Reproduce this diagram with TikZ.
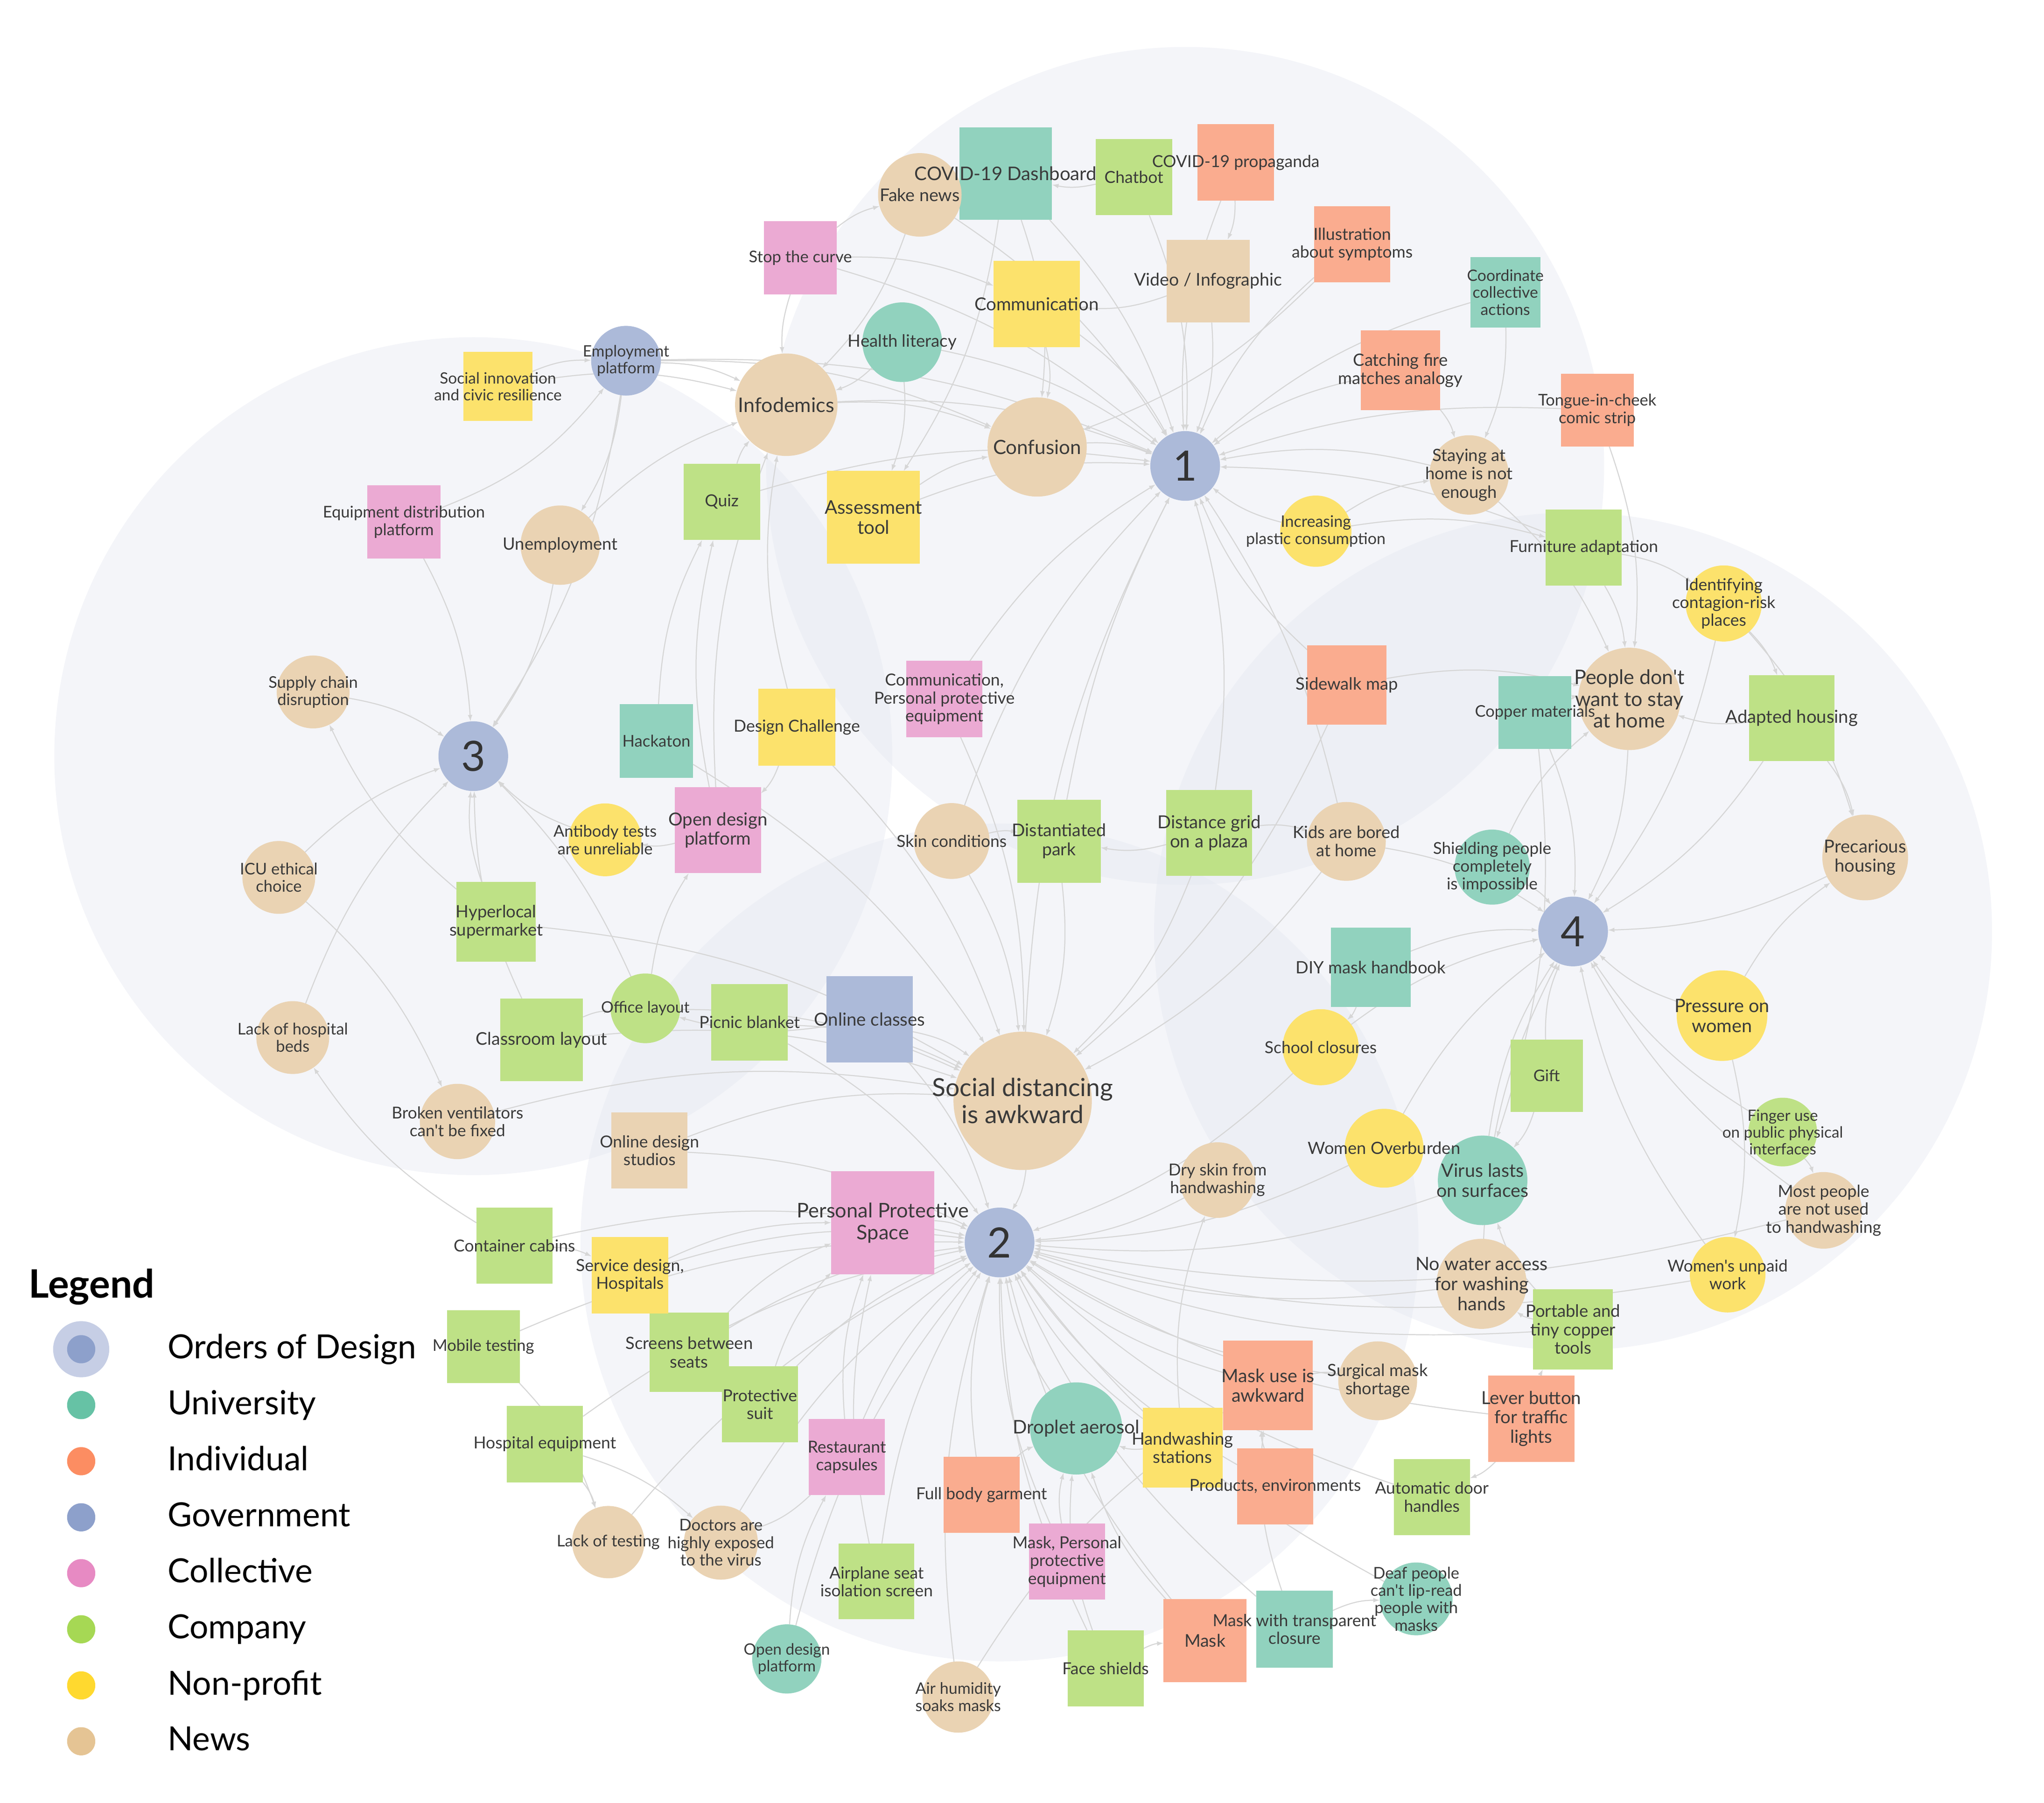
\documentclass[tikz,border=0pt]{standalone}
\usepackage{fontspec}
\setmainfont{Lato}[Ligatures=TeXOff]
\usetikzlibrary{arrows.meta}
\pgfdeclarelayer{bg}\pgfdeclarelayer{edges}\pgfdeclarelayer{fg}
\pgfsetlayers{bg,edges,main,fg}
\definecolor{cTeal}{HTML}{91D2BE}
\definecolor{cOrange}{HTML}{FAAC8F}
\definecolor{cBlue}{HTML}{ACBAD9}
\definecolor{cPink}{HTML}{EBAAD3}
\definecolor{cGreen}{HTML}{BEE186}
\definecolor{cYellow}{HTML}{FCE26C}
\definecolor{cTan}{HTML}{EAD3B3}
\definecolor{lTeal}{HTML}{66C2A5}
\definecolor{lOrange}{HTML}{FC8D62}
\definecolor{lBlue}{HTML}{8DA0CB}
\definecolor{lPink}{HTML}{E78AC3}
\definecolor{lGreen}{HTML}{A6D854}
\definecolor{lYellow}{HTML}{FFD92F}
\definecolor{lTan}{HTML}{E5C494}
\definecolor{lHalo}{HTML}{C6CEE5}
\definecolor{textc}{HTML}{3A3A3A}
\definecolor{edgec}{HTML}{D6D6D6}
\definecolor{clus}{HTML}{E4E7F0}
\tikzset{
  txt/.style={inner sep=0pt, align=center, text=textc},
  ed/.style={draw=edgec, line width=0.8pt, -{Latex[length=5pt,width=3.6pt]}},
  shp/.style={inner sep=0pt, outer sep=0pt, draw=none},
  legtxt/.style={anchor=base west, font=\fontsize{25.5}{28}\selectfont, text=black},
}
\newcommand\ndC[6]{%
  \pgfmathsetmacro\fsz{4.8+0.135*#4}%
  \pgfmathsetmacro\lsz{1.08*\fsz}%
  \node[shp, circle, fill=#5, minimum size=#4pt] (#1) at (#2,#3) {};
  \begin{pgfonlayer}{fg}
  \node[txt, font=\fontsize{\fsz}{\lsz}\selectfont] (#1-t) at (#2,#3) {#6};
  \end{pgfonlayer}}
\newcommand\ndS[6]{%
  \pgfmathsetmacro\fsz{4.8+0.135*#4}%
  \pgfmathsetmacro\lsz{1.08*\fsz}%
  \node[shp, rectangle, fill=#5, minimum width=#4pt, minimum height=#4pt] (#1) at (#2,#3) {};
  \begin{pgfonlayer}{fg}
  \node[txt, font=\fontsize{\fsz}{\lsz}\selectfont] (#1-t) at (#2,#3) {#6};
  \end{pgfonlayer}}
\newcommand\ndH[4]{%
  \node[shp, circle, fill=cBlue, minimum size=53.4pt] (#1) at (#2,#3) {};
  \begin{pgfonlayer}{fg}
  \node[txt, text=black!80, font=\fontsize{32}{34}\selectfont] (#1-t) at (#2,#3) {#4};
  \end{pgfonlayer}}
\newcommand\edg[3][12]{\draw[ed] (#2) to[bend left=#1] (#3);}
\begin{document}
\begin{tikzpicture}[x=1pt,y=-1pt]
\useasboundingbox (0,0) rectangle (1566,1381.5);
% cluster backgrounds
\begin{pgfonlayer}{bg}
\fill[clus, fill opacity=0.42] (908,357) circle (321pt);
\fill[clus, fill opacity=0.42] (362.6,579.4) circle (321pt);
\fill[clus, fill opacity=0.42] (1205.2,713.7) circle (321pt);
\fill[clus, fill opacity=0.42] (765.8,952) circle (321pt);
\end{pgfonlayer}
% ---------- cluster 1
\ndS{dash}{770.5}{133}{71}{cTeal}{COVID-19 Dashboard}
\ndC{fake}{704.7}{149.3}{64}{cTan}{Fake news}
\ndS{chat}{868.7}{135.7}{58.5}{cGreen}{Chatbot}
\ndS{prop}{946.8}{124.5}{58.5}{cOrange}{COVID-19 propaganda}
\ndS{stop}{613.2}{197.6}{56}{cPink}{Stop the curve}
\ndC{hlit}{691.2}{262.2}{61}{cTeal}{Health literacy}
\ndS{comm}{794.2}{233}{66}{cYellow}{Communication}
\ndS{video}{925.6}{215.4}{63.5}{cTan}{Video / Infographic}
\ndS{illu}{1036}{187.2}{58.5}{cOrange}{Illustration\\about symptoms}
\ndS{coord}{1153.3}{224}{53.7}{cTeal}{Coordinate\\collective\\actions}
\ndS{catch}{1073}{283.8}{61}{cOrange}{Catching fire\\matches analogy}
\ndS{tongue}{1223.7}{314.2}{55.8}{cOrange}{Tongue-in-cheek\\comic strip}
\ndH{c1}{908}{357}{1}
\ndC{conf}{794.6}{342.5}{76}{cTan}{Confusion}
\ndC{info}{602.4}{310.1}{78.5}{cTan}{Infodemics}
\ndS{quiz}{553}{384.5}{58.5}{cGreen}{Quiz}
\ndS{assess}{669.2}{396.4}{71}{cYellow}{Assessment\\tool}
\ndC{stay}{1125.5}{363.9}{60.8}{cTan}{Staying at\\home is not\\enough}
\ndC{plast}{1008.1}{407}{54.6}{cYellow}{Increasing\\plastic consumption}
\ndS{furn}{1213.4}{419.7}{58.3}{cGreen}{Furniture adaptation}
\ndC{ident}{1320.6}{462.4}{58.3}{cYellow}{Identifying\\contagion-risk\\places}
\ndS{side}{1031.9}{524.8}{60.8}{cOrange}{Sidewalk map}
\ndS{copper}{1176}{545.8}{55.8}{cTeal}{Copper materials}
\ndC{people}{1248.3}{535.5}{78.4}{cTan}{People don't\\want to stay\\at home}
\ndS{adapt}{1372.7}{550.3}{65.7}{cGreen}{Adapted housing}
\ndS{cppe}{723.5}{535.6}{58.5}{cPink}{Communication,\\Personal protective\\equipment}
\ndC{skin}{729.1}{644.4}{58.1}{cTan}{Skin conditions}
\ndS{park}{811.4}{644.5}{63.7}{cGreen}{Distantiated\\park}
\ndS{grid}{926.4}{638.2}{66}{cGreen}{Distance grid\\on a plaza}
% ---------- cluster 4
\ndC{kids}{1031.5}{644.7}{60.4}{cTan}{Kids are bored\\at home}
\ndC{shield}{1143.2}{664.4}{57.5}{cTeal}{Shielding people\\completely\\is impossible}
\ndC{prec}{1429}{657}{65.7}{cTan}{Precarious\\housing}
\ndH{c4}{1205.2}{713.7}{4}
\ndS{diy}{1050.2}{741.2}{61}{cTeal}{DIY mask handbook}
\ndC{press}{1319.3}{778.2}{69.4}{cYellow}{Pressure on\\women}
\ndC{school}{1011.8}{802.4}{58.3}{cYellow}{School closures}
\ndS{gift}{1184.9}{824.3}{55.4}{cGreen}{Gift}
\ndC{finger}{1365.8}{867.4}{52.6}{cGreen}{Finger use\\on public physical\\interfaces}
\ndC{wover}{1060.4}{879.8}{60.4}{cYellow}{Women Overburden}
\ndC{virus}{1135.9}{904.4}{68.6}{cTeal}{Virus lasts\\on surfaces}
\ndC{dry}{932.8}{904.2}{57.9}{cTan}{Dry skin from\\handwashing}
\ndC{most}{1397.1}{927.4}{58.7}{cTan}{Most people\\are not used\\to handwashing}
\ndC{unpaid}{1323.6}{976.7}{57.9}{cYellow}{Women's unpaid\\work}
\ndC{water}{1135.1}{983.7}{69}{cTan}{No water access\\for washing\\hands}
\ndS{port}{1205.1}{1018.6}{61.2}{cGreen}{Portable and\\tiny copper\\tools}
% ---------- cluster 2
\ndS{maskaw}{971.5}{1061.5}{68.6}{cOrange}{Mask use is\\awkward}
\ndC{surg}{1055.5}{1058}{60.4}{cTan}{Surgical mask\\shortage}
\ndS{lever}{1173.2}{1087}{66.1}{cOrange}{Lever button\\for traffic\\lights}
\ndS{hand}{906}{1109.3}{61.1}{cYellow}{Handwashing\\stations}
\ndS{prod}{977}{1138.8}{58.3}{cOrange}{Products, environments}
\ndS{auto}{1097}{1147}{58.3}{cGreen}{Automatic door\\handles}
\ndC{deaf}{1085}{1225.1}{55.8}{cTeal}{Deaf people\\can't lip-read\\people with\\masks}
\ndS{mask}{923.2}{1257.1}{63.4}{cOrange}{Mask}
\ndS{mtrans}{991.7}{1248.3}{58.7}{cTeal}{Mask with transparent\\closure}
\ndS{face}{847}{1278.3}{58.3}{cGreen}{Face shields}
\ndC{humid}{734.1}{1300.3}{54.6}{cTan}{Air humidity\\soaks masks}
\ndC{odpb}{602.8}{1271.1}{53}{cTeal}{Open design\\platform}
\ndS{maskppe}{817.4}{1196.6}{58.3}{cPink}{Mask, Personal\\protective\\equipment}
\ndS{air}{671.6}{1211.8}{57.9}{cGreen}{Airplane seat\\isolation screen}
\ndS{full}{752}{1145.5}{58.3}{cOrange}{Full body garment}
\ndC{drop}{824.5}{1094.5}{70.6}{cTeal}{Droplet aerosol}
\ndS{rest}{648.8}{1116.4}{58.3}{cPink}{Restaurant\\capsules}
\ndS{suit}{582.2}{1076}{58.3}{cGreen}{Protective\\suit}
\ndS{screens}{528}{1036.2}{60.8}{cGreen}{Screens between\\seats}
\ndS{pps}{676.4}{937}{79}{cPink}{Personal Protective\\Space}
\ndH{c2}{765.8}{952}{2}
\ndC{sdist}{783.5}{843.5}{106}{cTan}{Social distancing\\is awkward}
\ndS{online}{666.2}{781}{66.1}{cBlue}{Online classes}
\ndS{picnic}{574.3}{783.3}{58.7}{cGreen}{Picnic blanket}
\ndC{office}{494.4}{772.6}{53.4}{cGreen}{Office layout}
\ndS{class}{414.9}{796.8}{63.5}{cGreen}{Classroom layout}
\ndC{vent}{350.5}{859.3}{57.7}{cTan}{Broken ventilators\\can't be fixed}
\ndS{ods}{497.6}{881.5}{58.3}{cTan}{Online design\\studios}
\ndS{cont}{394.1}{954.5}{58.3}{cGreen}{Container cabins}
\ndS{serv}{482.6}{977.2}{58.7}{cYellow}{Service design,\\Hospitals}
\ndS{mobile}{370.3}{1031.7}{55.8}{cGreen}{Mobile testing}
\ndS{hosp}{417.4}{1106.4}{58.6}{cGreen}{Hospital equipment}
\ndC{lackt}{466}{1181.6}{55.4}{cTan}{Lack of testing}
\ndC{doc}{552.3}{1182}{56.7}{cTan}{Doctors are\\highly exposed\\to the virus}
% ---------- cluster 3
\ndH{c3}{362.6}{579.4}{3}
\ndC{emp}{479.6}{276.4}{53.4}{cBlue}{Employment\\platform}
\ndS{soc}{381.5}{296}{53}{cYellow}{Social innovation\\and civic resilience}
\ndS{equip}{309.4}{400}{56}{cPink}{Equipment distribution\\platform}
\ndC{unemp}{429.2}{417.7}{60.8}{cTan}{Unemployment}
\ndC{supply}{239.9}{530.2}{55.8}{cTan}{Supply chain\\disruption}
\ndS{hack}{502.9}{567.8}{56.3}{cTeal}{Hackaton}
\ndS{dchal}{610.5}{557.2}{58.7}{cYellow}{Design Challenge}
\ndC{anti}{463.6}{643.5}{55.8}{cYellow}{Antibody tests\\are unreliable}
\ndS{odp}{550}{636.1}{66}{cPink}{Open design\\platform}
\ndC{icu}{213.6}{672.3}{55.8}{cTan}{ICU ethical\\choice}
\ndS{hyper}{380.1}{706.4}{61}{cGreen}{Hyperlocal\\supermarket}
\ndC{beds}{224.3}{795}{55.8}{cTan}{Lack of hospital\\beds}
% ---------- edges
\begin{pgfonlayer}{edges}
% into 1
\edg{fake}{c1}\edg{dash}{c1}\edg{chat}{c1}\edg[-12]{prop}{c1}\edg{stop}{c1}
\edg{hlit}{c1}\edg{comm}{c1}\edg{video}{c1}\edg[-12]{illu}{c1}\edg[-12]{coord}{c1}
\edg[-12]{catch}{c1}\edg[-10]{tongue}{c1}\edg{conf}{c1}\edg{info}{c1}\edg{assess}{c1}
\edg{quiz}{c1}\edg[-12]{stay}{c1}\edg{plast}{c1}\edg{cppe}{c1}\edg{skin}{c1}
\edg[-12]{grid}{c1}\edg{side}{c1}\edg{sdist}{c1}\edg[-10]{kids}{c1}\edg[-10]{furn}{c1}
\edg{emp}{c1}\edg[8]{park}{c1}
% within cluster 1
\edg{chat}{dash}\edg{stop}{fake}\edg{stop}{comm}\edg{fake}{info}\edg{dash}{assess}
\edg{video}{comm}\edg{prop}{video}\edg{hlit}{info}\edg{hlit}{assess}\edg{comm}{conf}
\edg{assess}{conf}\edg{info}{conf}\edg{quiz}{info}\edg{illu}{conf}\edg{catch}{stay}
\edg{dash}{conf}\edg{soc}{info}\edg{emp}{info}\edg{emp}{conf}\edg[-10]{stop}{info}
\edg{coord}{stay}\edg{plast}{stay}
% cluster 3
\edg{supply}{c3}\edg{unemp}{c3}\edg{emp}{c3}\edg{equip}{c3}\edg{icu}{c3}
\edg{beds}{c3}\edg{hyper}{c3}\edg{anti}{c3}\edg{class}{c3}\edg[-10]{office}{c3}
\edg{soc}{emp}\edg{emp}{unemp}\edg{hyper}{supply}\edg{icu}{vent}\edg{cont}{beds}
\edg{hack}{quiz}\edg{odp}{quiz}\edg{odp}{info}\edg{dchal}{odp}\edg{odp}{anti}
\edg{dchal}{info}\edg{unemp}{info}\edg[-15]{equip}{emp}\edg{office}{odp}\edg{hyper}{sdist}
\edg{hack}{sdist}
% cluster 4
\edg{people}{c4}\edg{copper}{c4}\edg{adapt}{c4}\edg{prec}{c4}\edg{press}{c4}
\edg{shield}{c4}\edg{ident}{c4}\edg{gift}{c4}\edg{diy}{c4}\edg{school}{c4}
\edg{wover}{c4}\edg{virus}{c4}\edg{finger}{c4}\edg{unpaid}{c4}\edg{most}{c4}
\edg{kids}{c4}\edg{water}{c4}
\edg{furn}{people}\edg{tongue}{people}\edg{ident}{adapt}\edg{ident}{prec}\edg{adapt}{prec}
\edg{adapt}{people}\edg{copper}{people}\edg{side}{people}\edg{grid}{kids}\edg{grid}{park}
\edg{skin}{park}\edg{furn}{ident}\edg{press}{prec}\edg{press}{unpaid}\edg{finger}{most}
\edg{copper}{virus}\edg{gift}{virus}\edg{port}{virus}\edg{port}{water}\edg{lever}{port}
\edg{lever}{auto}\edg{stay}{people}\edg{plast}{furn}\edg{diy}{school}\edg{shield}{people}
% cluster 2
\edg{pps}{c2}\edg{drop}{c2}\edg{sdist}{c2}\edg{maskaw}{c2}\edg{surg}{c2}
\edg{hand}{c2}\edg{prod}{c2}\edg{full}{c2}\edg{rest}{c2}\edg{suit}{c2}
\edg{screens}{c2}\edg{air}{c2}\edg{face}{c2}\edg{mask}{c2}\edg{maskppe}{c2}
\edg{cont}{c2}\edg{serv}{c2}\edg{ods}{c2}\edg{mobile}{c2}\edg{hosp}{c2}
\edg{lackt}{c2}\edg{doc}{c2}\edg{dry}{c2}\edg{virus}{c2}\edg{water}{c2}
\edg{lever}{c2}\edg{auto}{c2}\edg{mtrans}{c2}\edg{deaf}{c2}\edg{humid}{c2}
\edg{odpb}{c2}\edg{online}{c2}\edg{picnic}{c2}\edg{unpaid}{c2}\edg{most}{c2}
\edg{port}{c2}\edg{wover}{c2}\edg{school}{c2}
\edg{park}{sdist}\edg{grid}{sdist}\edg{picnic}{sdist}\edg{office}{sdist}\edg{online}{sdist}
\edg{class}{sdist}\edg{kids}{sdist}\edg{cppe}{sdist}\edg{side}{sdist}\edg{skin}{sdist}
\edg{dchal}{sdist}\edg{screens}{pps}\edg{rest}{pps}\edg{air}{pps}\edg{suit}{pps}
\edg{serv}{pps}\edg{hosp}{lackt}\edg{hosp}{doc}\edg{mobile}{lackt}\edg{rest}{doc}
\edg{mask}{drop}\edg{face}{drop}\edg{hand}{drop}\edg{maskppe}{drop}\edg{full}{drop}
\edg{maskaw}{surg}\edg{prod}{maskaw}\edg{mtrans}{deaf}\edg{face}{mask}\edg{mtrans}{maskaw}
\edg{online}{office}\edg{ods}{sdist}\edg{class}{office}\edg{cont}{serv}\edg{hand}{dry}
\edg{odpb}{rest}\edg{humid}{maskaw}\edg{vent}{sdist}
\end{pgfonlayer}
% ---------- legend
\node[anchor=base west, font=\bfseries\fontsize{30}{33}\selectfont, text=black] (legt) at (18.5,994.4) {Legend};
\node[shp, circle, fill=lHalo, minimum size=43pt] (lg0h) at (62.2,1033.8) {};
\node[shp, circle, fill=lBlue, minimum size=21.6pt] (lg0) at (62.2,1033.8) {};
\node[shp, circle, fill=lTeal, minimum size=21.6pt] (lg1) at (62.2,1076.6) {};
\node[shp, circle, fill=lOrange, minimum size=21.6pt] (lg2) at (62.2,1119.6) {};
\node[shp, circle, fill=lBlue, minimum size=21.6pt] (lg3) at (62.2,1162.6) {};
\node[shp, circle, fill=lPink, minimum size=21.6pt] (lg4) at (62.2,1205.4) {};
\node[shp, circle, fill=lGreen, minimum size=21.6pt] (lg5) at (62.2,1248.4) {};
\node[shp, circle, fill=lYellow, minimum size=21.6pt] (lg6) at (62.2,1291.4) {};
\node[shp, circle, fill=lTan, minimum size=21.6pt] (lg7) at (62.2,1334.2) {};
\node[legtxt] (lt0) at (125,1041) {Orders of Design};
\node[legtxt] (lt1) at (125,1083.8) {University};
\node[legtxt] (lt2) at (125,1126.8) {Individual};
\node[legtxt] (lt3) at (125,1169.8) {Government};
\node[legtxt] (lt4) at (125,1212.6) {Collective};
\node[legtxt] (lt5) at (125,1255.6) {Company};
\node[legtxt] (lt6) at (125,1298.6) {Non-profit};
\node[legtxt] (lt7) at (125,1341.4) {News};
\end{tikzpicture}
\end{document}
